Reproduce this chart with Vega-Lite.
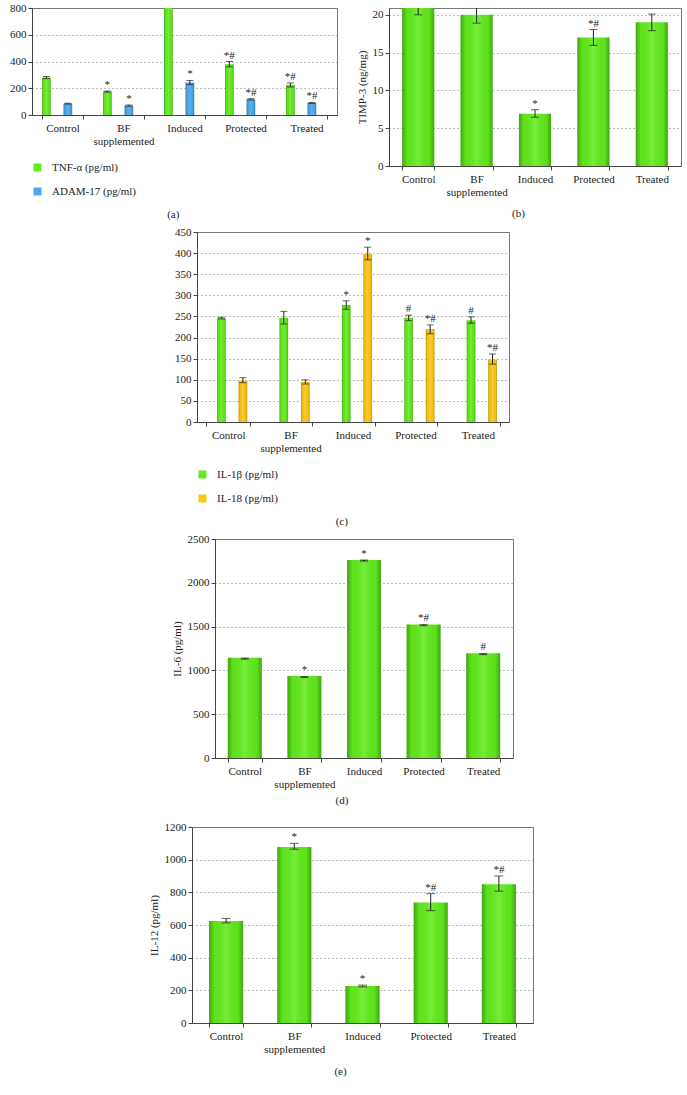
{
  "$schema": "https://vega.github.io/schema/vega-lite/v6.json",
  "padding": {"left": 9, "top": 1, "right": 0, "bottom": 0},
  "background": "white",
  "config": {
    "font": "Liberation Serif",
    "view": {"stroke": "#777", "strokeWidth": 1},
    "axis": {"labelFont": "Liberation Serif", "titleFont": "Liberation Serif", "labelFontSize": 11, "titleFontSize": 11, "titleFontWeight": "normal", "labelColor": "#222", "titleColor": "#222", "domainColor": "#444", "tickColor": "#444", "tickSize": 4, "labelOverlap": false},
    "axisY": {"grid": true, "gridDash": [1, 3], "gridColor": "#777", "labelPadding": 2, "titlePadding": 5},
    "axisX": {"grid": false, "tickBand": "extent", "labelAngle": 0, "labelPadding": 3},
    "title": {"font": "Liberation Serif", "fontSize": 11, "fontWeight": "normal", "color": "#222", "orient": "bottom", "anchor": "middle", "frame": "bounds"},
    "legend": {"labelFont": "Liberation Serif", "labelFontSize": 11, "labelColor": "#222"}
  },
  "datasets": {
    "a": [
      {"g": "Control", "s": "TNF-α (pg/ml)", "v": 280, "lo": 272, "hi": 288, "sig": ""},
      {"g": "Control", "s": "ADAM-17 (pg/ml)", "v": 85, "lo": 82, "hi": 88, "sig": ""},
      {"g": "BF supplemented", "s": "TNF-α (pg/ml)", "v": 175, "lo": 171, "hi": 179, "sig": "*"},
      {"g": "BF supplemented", "s": "ADAM-17 (pg/ml)", "v": 70, "lo": 65, "hi": 75, "sig": "*"},
      {"g": "Induced", "s": "TNF-α (pg/ml)", "v": 1000, "lo": 1000, "hi": 1000, "sig": ""},
      {"g": "Induced", "s": "ADAM-17 (pg/ml)", "v": 243, "lo": 228, "hi": 258, "sig": "*"},
      {"g": "Protected", "s": "TNF-α (pg/ml)", "v": 380, "lo": 360, "hi": 400, "sig": "*#"},
      {"g": "Protected", "s": "ADAM-17 (pg/ml)", "v": 117, "lo": 112, "hi": 122, "sig": "*#"},
      {"g": "Treated", "s": "TNF-α (pg/ml)", "v": 225, "lo": 210, "hi": 240, "sig": "*#"},
      {"g": "Treated", "s": "ADAM-17 (pg/ml)", "v": 90, "lo": 86, "hi": 94, "sig": "*#"}
    ],
    "b": [
      {"g": "Control", "v": 20.9, "lo": 20.0, "hi": 21.8, "sig": ""},
      {"g": "BF supplemented", "v": 20.0, "lo": 18.9, "hi": 21.1, "sig": ""},
      {"g": "Induced", "v": 6.9, "lo": 6.45, "hi": 7.45, "sig": "*"},
      {"g": "Protected", "v": 17.0, "lo": 15.95, "hi": 18.05, "sig": "*#"},
      {"g": "Treated", "v": 19.0, "lo": 17.9, "hi": 20.1, "sig": ""}
    ],
    "c": [
      {"g": "Control", "s": "IL-1β (pg/ml)", "v": 246, "lo": 244, "hi": 248, "sig": ""},
      {"g": "Control", "s": "IL-18 (pg/ml)", "v": 98, "lo": 93, "hi": 105, "sig": ""},
      {"g": "BF supplemented", "s": "IL-1β (pg/ml)", "v": 247, "lo": 232, "hi": 262, "sig": ""},
      {"g": "BF supplemented", "s": "IL-18 (pg/ml)", "v": 95, "lo": 90, "hi": 100, "sig": ""},
      {"g": "Induced", "s": "IL-1β (pg/ml)", "v": 277, "lo": 267, "hi": 287, "sig": "*"},
      {"g": "Induced", "s": "IL-18 (pg/ml)", "v": 398, "lo": 384, "hi": 414, "sig": "*"},
      {"g": "Protected", "s": "IL-1β (pg/ml)", "v": 247, "lo": 240, "hi": 253, "sig": "#"},
      {"g": "Protected", "s": "IL-18 (pg/ml)", "v": 220, "lo": 209, "hi": 230, "sig": "*#"},
      {"g": "Treated", "s": "IL-1β (pg/ml)", "v": 241, "lo": 234, "hi": 249, "sig": "#"},
      {"g": "Treated", "s": "IL-18 (pg/ml)", "v": 148, "lo": 137, "hi": 161, "sig": "*#"}
    ],
    "d": [
      {"g": "Control", "v": 1145, "lo": 1128, "hi": 1140, "sig": ""},
      {"g": "BF supplemented", "v": 935, "lo": 918, "hi": 930, "sig": "*"},
      {"g": "Induced", "v": 2260, "lo": 2248, "hi": 2260, "sig": "*"},
      {"g": "Protected", "v": 1525, "lo": 1510, "hi": 1522, "sig": "*#"},
      {"g": "Treated", "v": 1195, "lo": 1180, "hi": 1192, "sig": "#"}
    ],
    "e": [
      {"g": "Control", "v": 625, "lo": 613, "hi": 640, "sig": ""},
      {"g": "BF supplemented", "v": 1078, "lo": 1064, "hi": 1100, "sig": "*"},
      {"g": "Induced", "v": 226, "lo": 221, "hi": 232, "sig": "*"},
      {"g": "Protected", "v": 738, "lo": 688, "hi": 792, "sig": "*#"},
      {"g": "Treated", "v": 850, "lo": 807, "hi": 900, "sig": "*#"}
    ],
    "blank": [{"k": 1}]
  },
  "vconcat": [
    {
      "hconcat": [
        {
          "width": 305, "height": 107,
          "data": {"name": "a"},
          "title": {"text": "(a)", "offset": 12},
          "encoding": {
            "x": {"field": "g", "type": "nominal", "sort": ["Control", "BF supplemented", "Induced", "Protected", "Treated"], "scale": {"paddingInner": 0.33, "paddingOuter": 0.165}, "axis": {"title": null, "labelExpr": "datum.value == 'BF supplemented' ? ['BF', 'supplemented'] : datum.label"}},
            "xOffset": {"field": "s", "type": "nominal", "sort": ["TNF-α (pg/ml)", "ADAM-17 (pg/ml)"], "scale": {"paddingInner": 0.2}}
          },
          "layer": [
            {"mark": {"type": "bar", "clip": true}, "encoding": {"y": {"field": "v", "type": "quantitative", "title": null, "scale": {"domain": [0, 800], "nice": false}, "axis": {"values": [0, 200, 400, 600, 800], "format": "d"}}, "color": {"field": "s", "type": "nominal", "scale": {"domain": ["TNF-α (pg/ml)", "ADAM-17 (pg/ml)"], "range": ["#62ec1c", "#4aa9ef"]}, "legend": {"title": null, "orient": "bottom", "direction": "vertical", "symbolType": "square", "symbolSize": 64, "symbolStrokeWidth": 0, "rowPadding": 12, "labelOffset": 9, "offset": 16}}}},
            {"mark": {"type": "bar", "clip": true, "fill": {"gradient": "linear", "x1": 0, "y1": 0, "x2": 1, "y2": 0, "stops": [{"offset": 0, "color": "rgba(0,40,0,0.35)"}, {"offset": 0.15, "color": "rgba(0,0,0,0.04)"}, {"offset": 0.5, "color": "rgba(255,255,255,0.12)"}, {"offset": 0.85, "color": "rgba(0,0,0,0.04)"}, {"offset": 1, "color": "rgba(0,40,0,0.35)"}]}}, "encoding": {"y": {"field": "v", "type": "quantitative", "title": null, "scale": {"domain": [0, 800], "nice": false}, "axis": {"values": [0, 200, 400, 600, 800], "format": "d"}}}},
            {"mark": {"type": "rule", "clip": true, "color": "#222"}, "encoding": {"y": {"field": "lo", "type": "quantitative", "title": null, "scale": {"domain": [0, 800], "nice": false}, "axis": {"values": [0, 200, 400, 600, 800], "format": "d"}}, "y2": {"field": "hi"}}},
            {"mark": {"type": "tick", "clip": true, "size": 7, "thickness": 1, "color": "#222"}, "encoding": {"y": {"field": "lo", "type": "quantitative", "title": null, "scale": {"domain": [0, 800], "nice": false}, "axis": {"values": [0, 200, 400, 600, 800], "format": "d"}}}},
            {"mark": {"type": "tick", "clip": true, "size": 7, "thickness": 1, "color": "#222"}, "encoding": {"y": {"field": "hi", "type": "quantitative", "title": null, "scale": {"domain": [0, 800], "nice": false}, "axis": {"values": [0, 200, 400, 600, 800], "format": "d"}}}},
            {"mark": {"type": "text", "clip": true, "baseline": "alphabetic", "dy": -3, "font": "Liberation Serif", "fontSize": 11, "color": "#222"}, "encoding": {"y": {"field": "hi", "type": "quantitative", "title": null, "scale": {"domain": [0, 800], "nice": false}, "axis": {"values": [0, 200, 400, 600, 800], "format": "d"}}, "text": {"field": "sig"}}}
          ]
        },
        {
          "width": 292, "height": 158,
          "data": {"name": "b"},
          "title": {"text": "(b)", "offset": 11},
          "encoding": {
            "x": {"field": "g", "type": "nominal", "sort": ["Control", "BF supplemented", "Induced", "Protected", "Treated"], "scale": {"paddingInner": 0.45, "paddingOuter": 0.225}, "axis": {"title": null, "labelExpr": "datum.value == 'BF supplemented' ? ['BF', 'supplemented'] : datum.label"}}
          },
          "layer": [
            {"mark": {"type": "bar", "clip": true, "color": "#62ec1c"}, "encoding": {"y": {"field": "v", "type": "quantitative", "title": "TIMP-3 (ng/mg)", "scale": {"domain": [0, 20.9], "nice": false}, "axis": {"values": [0, 5, 10, 15, 20], "format": "d"}}}},
            {"mark": {"type": "bar", "clip": true, "fill": {"gradient": "linear", "x1": 0, "y1": 0, "x2": 1, "y2": 0, "stops": [{"offset": 0, "color": "rgba(0,40,0,0.35)"}, {"offset": 0.15, "color": "rgba(0,0,0,0.04)"}, {"offset": 0.5, "color": "rgba(255,255,255,0.12)"}, {"offset": 0.85, "color": "rgba(0,0,0,0.04)"}, {"offset": 1, "color": "rgba(0,40,0,0.35)"}]}}, "encoding": {"y": {"field": "v", "type": "quantitative", "title": "TIMP-3 (ng/mg)", "scale": {"domain": [0, 20.9], "nice": false}, "axis": {"values": [0, 5, 10, 15, 20], "format": "d"}}}},
            {"mark": {"type": "rule", "clip": true, "color": "#222"}, "encoding": {"y": {"field": "lo", "type": "quantitative", "title": "TIMP-3 (ng/mg)", "scale": {"domain": [0, 20.9], "nice": false}, "axis": {"values": [0, 5, 10, 15, 20], "format": "d"}}, "y2": {"field": "hi"}}},
            {"mark": {"type": "tick", "clip": true, "size": 8, "thickness": 1, "color": "#222"}, "encoding": {"y": {"field": "lo", "type": "quantitative", "title": "TIMP-3 (ng/mg)", "scale": {"domain": [0, 20.9], "nice": false}, "axis": {"values": [0, 5, 10, 15, 20], "format": "d"}}}},
            {"mark": {"type": "tick", "clip": true, "size": 8, "thickness": 1, "color": "#222"}, "encoding": {"y": {"field": "hi", "type": "quantitative", "title": "TIMP-3 (ng/mg)", "scale": {"domain": [0, 20.9], "nice": false}, "axis": {"values": [0, 5, 10, 15, 20], "format": "d"}}}},
            {"mark": {"type": "text", "clip": true, "baseline": "alphabetic", "dy": -3, "font": "Liberation Serif", "fontSize": 11, "color": "#222"}, "encoding": {"y": {"field": "hi", "type": "quantitative", "title": "TIMP-3 (ng/mg)", "scale": {"domain": [0, 20.9], "nice": false}, "axis": {"values": [0, 5, 10, 15, 20], "format": "d"}}, "text": {"field": "sig"}}}
          ]
        }
      ],
      "spacing": 17,
      "resolve": {"scale": {"color": "independent"}, "legend": {"color": "independent"}}
    },
    {
      "hconcat": [
        {"width": 142, "height": 1, "data": {"name": "blank"}, "view": {"stroke": null}, "mark": {"type": "point", "opacity": 0}},
        {
          "width": 312, "height": 190,
          "data": {"name": "c"},
          "title": {"text": "(c)", "offset": 12},
          "encoding": {
            "x": {"field": "g", "type": "nominal", "sort": ["Control", "BF supplemented", "Induced", "Protected", "Treated"], "scale": {"paddingInner": 0.3, "paddingOuter": 0.15}, "axis": {"title": null, "labelExpr": "datum.value == 'BF supplemented' ? ['BF', 'supplemented'] : datum.label"}},
            "xOffset": {"field": "s", "type": "nominal", "sort": ["IL-1β (pg/ml)", "IL-18 (pg/ml)"], "scale": {"paddingInner": 0.23}}
          },
          "layer": [
            {"mark": {"type": "bar", "clip": true}, "encoding": {"y": {"field": "v", "type": "quantitative", "title": null, "scale": {"domain": [0, 450], "nice": false}, "axis": {"values": [0, 50, 100, 150, 200, 250, 300, 350, 400, 450], "format": "d"}}, "color": {"field": "s", "type": "nominal", "scale": {"domain": ["IL-1β (pg/ml)", "IL-18 (pg/ml)"], "range": ["#62ec1c", "#ffc814"]}, "legend": {"title": null, "orient": "bottom", "direction": "vertical", "symbolType": "square", "symbolSize": 64, "symbolStrokeWidth": 0, "rowPadding": 12, "labelOffset": 9, "offset": 16}}}},
            {"mark": {"type": "bar", "clip": true, "fill": {"gradient": "linear", "x1": 0, "y1": 0, "x2": 1, "y2": 0, "stops": [{"offset": 0, "color": "rgba(60,30,0,0.35)"}, {"offset": 0.15, "color": "rgba(0,0,0,0.04)"}, {"offset": 0.5, "color": "rgba(255,255,255,0.12)"}, {"offset": 0.85, "color": "rgba(0,0,0,0.04)"}, {"offset": 1, "color": "rgba(60,30,0,0.35)"}]}}, "encoding": {"y": {"field": "v", "type": "quantitative", "title": null, "scale": {"domain": [0, 450], "nice": false}, "axis": {"values": [0, 50, 100, 150, 200, 250, 300, 350, 400, 450], "format": "d"}}}},
            {"mark": {"type": "rule", "clip": true, "color": "#222"}, "encoding": {"y": {"field": "lo", "type": "quantitative", "title": null, "scale": {"domain": [0, 450], "nice": false}, "axis": {"values": [0, 50, 100, 150, 200, 250, 300, 350, 400, 450], "format": "d"}}, "y2": {"field": "hi"}}},
            {"mark": {"type": "tick", "clip": true, "size": 7, "thickness": 1, "color": "#222"}, "encoding": {"y": {"field": "lo", "type": "quantitative", "title": null, "scale": {"domain": [0, 450], "nice": false}, "axis": {"values": [0, 50, 100, 150, 200, 250, 300, 350, 400, 450], "format": "d"}}}},
            {"mark": {"type": "tick", "clip": true, "size": 7, "thickness": 1, "color": "#222"}, "encoding": {"y": {"field": "hi", "type": "quantitative", "title": null, "scale": {"domain": [0, 450], "nice": false}, "axis": {"values": [0, 50, 100, 150, 200, 250, 300, 350, 400, 450], "format": "d"}}}},
            {"mark": {"type": "text", "clip": true, "baseline": "alphabetic", "dy": -3, "font": "Liberation Serif", "fontSize": 11, "color": "#222"}, "encoding": {"y": {"field": "hi", "type": "quantitative", "title": null, "scale": {"domain": [0, 450], "nice": false}, "axis": {"values": [0, 50, 100, 150, 200, 250, 300, 350, 400, 450], "format": "d"}}, "text": {"field": "sig"}}}
          ]
        }
      ],
      "spacing": 0,
      "resolve": {"scale": {"color": "independent"}, "legend": {"color": "independent"}}
    },
    {
      "hconcat": [
        {"width": 138, "height": 1, "data": {"name": "blank"}, "view": {"stroke": null}, "mark": {"type": "point", "opacity": 0}},
        {
          "width": 298, "height": 219,
          "data": {"name": "d"},
          "title": {"text": "(d)", "offset": 6, "subtitle": " ", "subtitleFontSize": 6, "subtitlePadding": 3},
          "encoding": {
            "x": {"field": "g", "type": "nominal", "sort": ["Control", "BF supplemented", "Induced", "Protected", "Treated"], "scale": {"paddingInner": 0.43, "paddingOuter": 0.215}, "axis": {"title": null, "labelExpr": "datum.value == 'BF supplemented' ? ['BF', 'supplemented'] : datum.label"}}
          },
          "layer": [
            {"mark": {"type": "bar", "clip": true, "color": "#62ec1c"}, "encoding": {"y": {"field": "v", "type": "quantitative", "title": "IL-6 (pg/ml)", "scale": {"domain": [0, 2500], "nice": false}, "axis": {"values": [0, 500, 1000, 1500, 2000, 2500], "format": "d"}}}},
            {"mark": {"type": "bar", "clip": true, "fill": {"gradient": "linear", "x1": 0, "y1": 0, "x2": 1, "y2": 0, "stops": [{"offset": 0, "color": "rgba(0,40,0,0.35)"}, {"offset": 0.15, "color": "rgba(0,0,0,0.04)"}, {"offset": 0.5, "color": "rgba(255,255,255,0.12)"}, {"offset": 0.85, "color": "rgba(0,0,0,0.04)"}, {"offset": 1, "color": "rgba(0,40,0,0.35)"}]}}, "encoding": {"y": {"field": "v", "type": "quantitative", "title": "IL-6 (pg/ml)", "scale": {"domain": [0, 2500], "nice": false}, "axis": {"values": [0, 500, 1000, 1500, 2000, 2500], "format": "d"}}}},
            {"mark": {"type": "rule", "clip": true, "color": "#222", "strokeWidth": 2}, "encoding": {"y": {"field": "lo", "type": "quantitative", "title": "IL-6 (pg/ml)", "scale": {"domain": [0, 2500], "nice": false}, "axis": {"values": [0, 500, 1000, 1500, 2000, 2500], "format": "d"}}, "y2": {"field": "hi"}}},
            {"mark": {"type": "tick", "clip": true, "size": 8, "thickness": 1, "color": "#222"}, "encoding": {"y": {"field": "lo", "type": "quantitative", "title": "IL-6 (pg/ml)", "scale": {"domain": [0, 2500], "nice": false}, "axis": {"values": [0, 500, 1000, 1500, 2000, 2500], "format": "d"}}}},
            {"mark": {"type": "tick", "clip": true, "size": 8, "thickness": 1, "color": "#222"}, "encoding": {"y": {"field": "hi", "type": "quantitative", "title": "IL-6 (pg/ml)", "scale": {"domain": [0, 2500], "nice": false}, "axis": {"values": [0, 500, 1000, 1500, 2000, 2500], "format": "d"}}}},
            {"mark": {"type": "text", "clip": true, "baseline": "alphabetic", "dy": -3, "font": "Liberation Serif", "fontSize": 11, "color": "#222"}, "encoding": {"y": {"field": "v", "type": "quantitative", "title": "IL-6 (pg/ml)", "scale": {"domain": [0, 2500], "nice": false}, "axis": {"values": [0, 500, 1000, 1500, 2000, 2500], "format": "d"}}, "text": {"field": "sig"}}}
          ]
        }
      ],
      "spacing": 0
    },
    {
      "hconcat": [
        {"width": 115, "height": 1, "data": {"name": "blank"}, "view": {"stroke": null}, "mark": {"type": "point", "opacity": 0}},
        {
          "width": 341, "height": 196,
          "data": {"name": "e"},
          "title": {"text": "(e)", "offset": 12},
          "encoding": {
            "x": {"field": "g", "type": "nominal", "sort": ["Control", "BF supplemented", "Induced", "Protected", "Treated"], "scale": {"paddingInner": 0.5, "paddingOuter": 0.25}, "axis": {"title": null, "labelExpr": "datum.value == 'BF supplemented' ? ['BF', 'supplemented'] : datum.label"}}
          },
          "layer": [
            {"mark": {"type": "bar", "clip": true, "color": "#62ec1c"}, "encoding": {"y": {"field": "v", "type": "quantitative", "title": "IL-12 (pg/ml)", "scale": {"domain": [0, 1200], "nice": false}, "axis": {"values": [0, 200, 400, 600, 800, 1000, 1200], "format": "d"}}}},
            {"mark": {"type": "bar", "clip": true, "fill": {"gradient": "linear", "x1": 0, "y1": 0, "x2": 1, "y2": 0, "stops": [{"offset": 0, "color": "rgba(0,40,0,0.35)"}, {"offset": 0.15, "color": "rgba(0,0,0,0.04)"}, {"offset": 0.5, "color": "rgba(255,255,255,0.12)"}, {"offset": 0.85, "color": "rgba(0,0,0,0.04)"}, {"offset": 1, "color": "rgba(0,40,0,0.35)"}]}}, "encoding": {"y": {"field": "v", "type": "quantitative", "title": "IL-12 (pg/ml)", "scale": {"domain": [0, 1200], "nice": false}, "axis": {"values": [0, 200, 400, 600, 800, 1000, 1200], "format": "d"}}}},
            {"mark": {"type": "rule", "clip": true, "color": "#222"}, "encoding": {"y": {"field": "lo", "type": "quantitative", "title": "IL-12 (pg/ml)", "scale": {"domain": [0, 1200], "nice": false}, "axis": {"values": [0, 200, 400, 600, 800, 1000, 1200], "format": "d"}}, "y2": {"field": "hi"}}},
            {"mark": {"type": "tick", "clip": true, "size": 9, "thickness": 1, "color": "#222"}, "encoding": {"y": {"field": "lo", "type": "quantitative", "title": "IL-12 (pg/ml)", "scale": {"domain": [0, 1200], "nice": false}, "axis": {"values": [0, 200, 400, 600, 800, 1000, 1200], "format": "d"}}}},
            {"mark": {"type": "tick", "clip": true, "size": 9, "thickness": 1, "color": "#222"}, "encoding": {"y": {"field": "hi", "type": "quantitative", "title": "IL-12 (pg/ml)", "scale": {"domain": [0, 1200], "nice": false}, "axis": {"values": [0, 200, 400, 600, 800, 1000, 1200], "format": "d"}}}},
            {"mark": {"type": "text", "clip": true, "baseline": "alphabetic", "dy": -3, "font": "Liberation Serif", "fontSize": 11, "color": "#222"}, "encoding": {"y": {"field": "hi", "type": "quantitative", "title": "IL-12 (pg/ml)", "scale": {"domain": [0, 1200], "nice": false}, "axis": {"values": [0, 200, 400, 600, 800, 1000, 1200], "format": "d"}}, "text": {"field": "sig"}}}
          ]
        }
      ],
      "spacing": 0
    }
  ],
  "spacing": 4,
  "resolve": {"scale": {"color": "independent"}, "legend": {"color": "independent"}}
}
